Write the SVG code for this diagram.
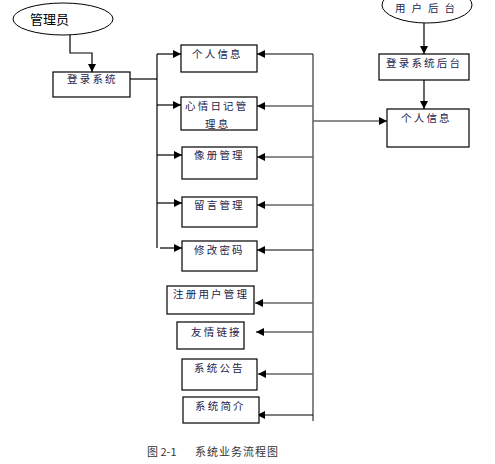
<svg xmlns="http://www.w3.org/2000/svg" width="495" height="464" viewBox="0 0 495 464">
<style>
.box{fill:#fff;stroke:#000;stroke-width:1.2}
.t{font-family:"Noto Sans CJK SC","Liberation Serif",serif;font-size:10.5px;fill:#1c1c4c;letter-spacing:2.2px}
.ln{fill:none;stroke:#000;stroke-width:1.2}
.lg{fill:none;stroke:#666;stroke-width:1.6}
.cap{font-family:"Noto Sans CJK SC","Liberation Sans",sans-serif;font-size:11px;fill:#333}
</style>
<defs>
<marker id="ar" viewBox="0 0 10 10" refX="10" refY="5" markerWidth="8" markerHeight="8" markerUnits="userSpaceOnUse" orient="auto">
<path d="M0,0 L10,5 L0,10 z" fill="#000"/>
</marker>
</defs>
<rect width="495" height="464" fill="#fff"/>
<g id="connectors">
<polyline class="ln" points="70,35 70,53 92,53 92,72" marker-end="url(#ar)"/>
<polyline class="ln" points="130,79 157,79"/>
<line class="ln" x1="157" y1="54" x2="157" y2="248"/>
<line class="ln" x1="157" y1="54" x2="181" y2="54" marker-end="url(#ar)"/>
<line class="ln" x1="157" y1="105" x2="181" y2="105" marker-end="url(#ar)"/>
<line class="ln" x1="157" y1="155" x2="182" y2="155" marker-end="url(#ar)"/>
<line class="ln" x1="157" y1="203" x2="182" y2="203" marker-end="url(#ar)"/>
<line class="ln" x1="160" y1="248" x2="182" y2="248" marker-end="url(#ar)"/>
<line class="lg" x1="313" y1="54" x2="313" y2="421"/>
<line class="ln" x1="313" y1="54" x2="257" y2="54" marker-end="url(#ar)"/>
<line class="lg" x1="313" y1="106" x2="257" y2="106" marker-end="url(#ar)"/>
<line class="lg" x1="313" y1="157" x2="257" y2="157" marker-end="url(#ar)"/>
<line class="lg" x1="313" y1="205" x2="257" y2="205" marker-end="url(#ar)"/>
<line class="ln" x1="313" y1="250" x2="257" y2="250" marker-end="url(#ar)"/>
<line class="lg" x1="313" y1="303" x2="255" y2="303" marker-end="url(#ar)"/>
<line class="lg" x1="313" y1="332" x2="256" y2="332" marker-end="url(#ar)"/>
<line class="lg" x1="313" y1="374" x2="258" y2="374" marker-end="url(#ar)"/>
<line class="ln" x1="313" y1="415" x2="257" y2="415" marker-end="url(#ar)"/>
<line class="lg" x1="313" y1="121" x2="387" y2="121" marker-end="url(#ar)"/>
<line class="ln" x1="424" y1="22" x2="424" y2="54" marker-end="url(#ar)"/>
<line class="ln" x1="424" y1="80" x2="424" y2="109" marker-end="url(#ar)"/>
</g>
<g id="n-admin">
<ellipse cx="63" cy="19" rx="50" ry="16" fill="#fff" stroke="#000" stroke-width="1"/>
<text x="30" y="24" font-family="'Noto Sans CJK SC','Liberation Sans',sans-serif" font-size="13" fill="#000">管理员</text>
</g>
<g id="n-login">
<rect class="box" x="53" y="72" width="77" height="25"/>
<text class="t" x="67" y="83">登录系统</text>
</g>
<g id="n-info">
<rect class="box" x="181" y="45" width="76" height="27"/>
<text class="t" x="192" y="58">个人信息</text>
</g>
<g id="n-diary">
<rect class="box" x="181" y="97" width="76" height="33"/>
<text class="t" x="185" y="110">心情日记管</text>
<text class="t" x="205" y="128">理息</text>
</g>
<g id="n-album">
<rect class="box" x="182" y="147" width="75" height="32"/>
<text class="t" x="194" y="159">像册管理</text>
</g>
<g id="n-msg">
<rect class="box" x="182" y="197" width="75" height="30"/>
<text class="t" x="194" y="209">留言管理</text>
</g>
<g id="n-pwd">
<rect class="box" x="182" y="241" width="75" height="30"/>
<text class="t" x="194" y="254">修改密码</text>
</g>
<g id="n-reg">
<rect class="box" x="167" y="286" width="87" height="28"/>
<text class="t" x="173" y="298">注册用户管理</text>
</g>
<g id="n-link">
<rect class="box" x="177" y="322" width="67" height="27"/>
<text class="t" x="191" y="336">友情链接</text>
</g>
<g id="n-notice">
<rect class="box" x="182" y="359" width="75" height="31"/>
<text class="t" x="194" y="372">系统公告</text>
</g>
<g id="n-about">
<rect class="box" x="183" y="397" width="76" height="26"/>
<text class="t" x="195" y="410">系统简介</text>
</g>
<g id="n-user">
<ellipse cx="427" cy="5" rx="45" ry="18" fill="#fff" stroke="#000" stroke-width="1"/>
<text class="t" x="395" y="12" style="letter-spacing:6px">用户后台</text>
</g>
<g id="n-login2">
<rect class="box" x="379" y="54" width="90" height="26"/>
<text class="t" x="386" y="67">登录系统后台</text>
</g>
<g id="n-info2">
<rect class="box" x="387" y="109" width="82" height="38"/>
<text class="t" x="401" y="122">个人信息</text>
</g>
<text class="cap" x="147" y="456">图 2-1</text>
<text class="cap" x="195" y="456" letter-spacing="1">系统业务流程图</text>
</svg>
